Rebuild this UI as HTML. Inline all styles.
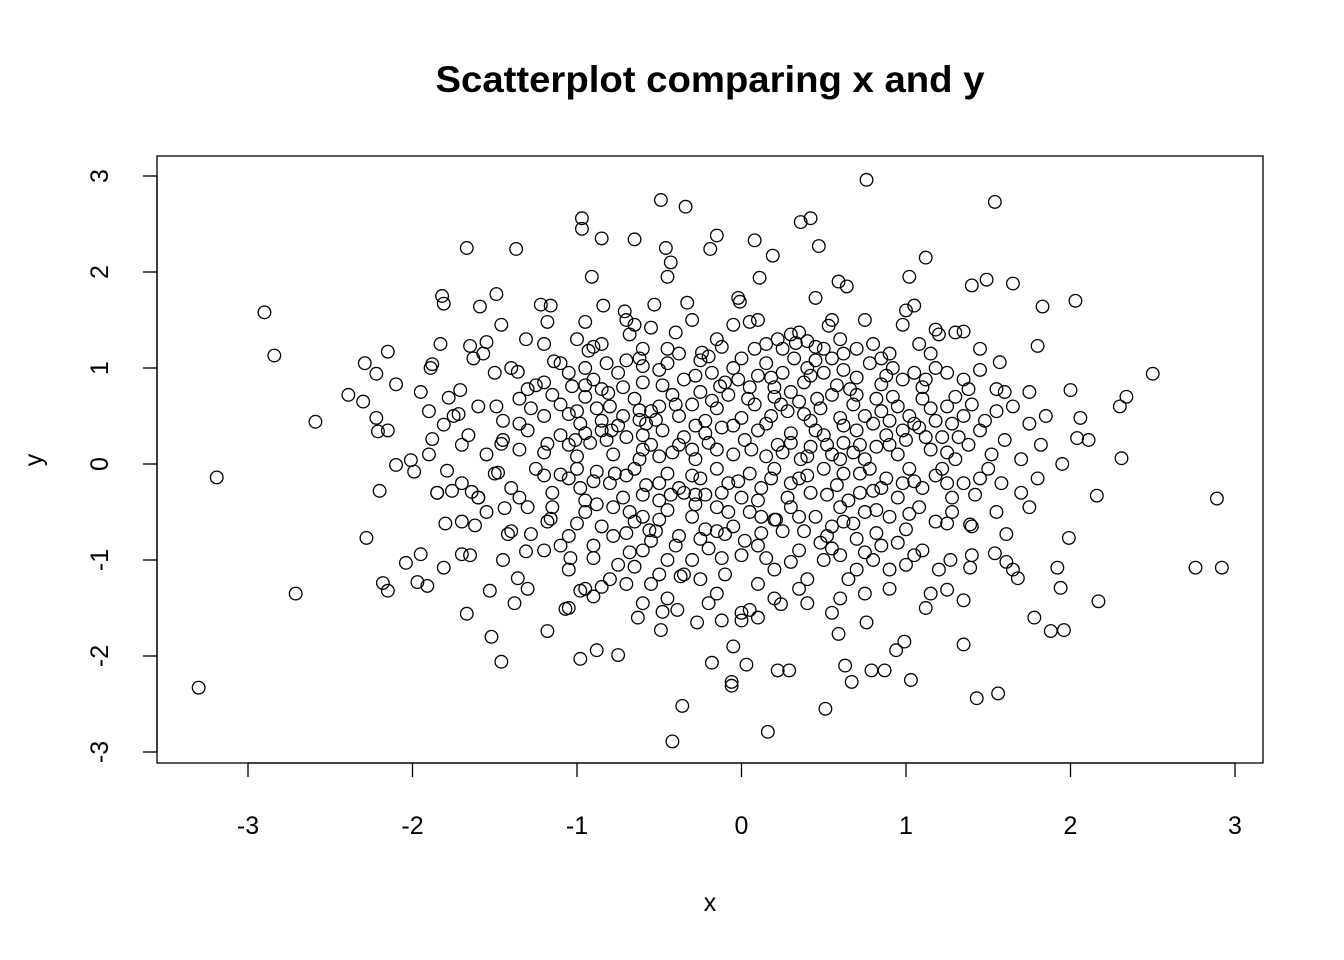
<!DOCTYPE html>
<html><head><meta charset="utf-8">
<style>
html,body{margin:0;padding:0;background:#fff;}
svg{display:block;font-family:"Liberation Sans",Arial,sans-serif;}
</style></head>
<body>
<svg id="chart" width="1344" height="960" viewBox="0 0 1344 960" xmlns="http://www.w3.org/2000/svg">
<rect x="0" y="0" width="1344" height="960" fill="#fff"/>
<text x="710" y="92" text-anchor="middle" font-size="37" font-weight="bold" textLength="549" lengthAdjust="spacingAndGlyphs">Scatterplot comparing x and y</text>
<rect x="157" y="156" width="1106" height="607" fill="none" stroke="#000" stroke-width="1.3"/>
<g id="xaxis"></g>
<g id="yaxis"></g>
<g id="marks"></g>
<text x="710" y="911" text-anchor="middle" font-size="25">x</text>
<text transform="translate(42,460) rotate(-90)" text-anchor="middle" font-size="25">y</text>
</svg>
<script>
const xTicks = [-3,-2,-1,0,1,2,3];
const yTicks = [-3,-2,-1,0,1,2,3];
const outlierPoints = [
[-3.30,-2.33],[-3.19,-0.14],[-2.90,1.58],[-2.84,1.13],[-2.71,-1.35],[-2.59,0.44],[-2.39,0.72],[-2.29,1.05],[-2.30,0.65],[-2.28,-0.77],
[-2.22,0.94],[-2.22,0.48],[-2.15,1.17],[-2.20,-0.28],[-2.18,-1.24],[-2.15,-1.32],[-2.21,0.34],[-2.15,0.35],[-2.10,0.83],[-2.10,-0.01],
[-2.04,-1.03],[-2.01,0.04],[-1.99,-0.08],[-1.95,0.75],[-1.95,-0.94],[-1.97,-1.23],[-1.89,1.00],[-1.88,1.04],[-1.91,-1.27],[-1.88,0.26],
[-1.82,1.75],[-1.81,1.67],[-1.85,-0.30],[-1.81,-1.08],[-1.80,-0.62],[-1.83,1.25],[-1.81,0.41],[-1.79,-0.07],[-1.78,0.69],[-1.76,-0.28],
[-1.72,0.52],[-1.71,0.77],[-1.70,-0.94],[-1.67,2.25],[-1.67,-1.56],[-1.66,0.30],[-1.65,1.23],[-1.63,1.10],[-1.64,-0.29],[-1.62,-0.64],
[-1.60,-0.35],[-1.59,1.64],[-1.57,1.15],[-1.55,1.27],[-1.53,-1.32],[-1.52,-1.80],[-1.49,1.77],[-1.49,0.60],[-1.48,-0.09],[-1.46,0.21],
[-1.46,1.45],[-1.46,-2.06],[-1.44,-0.46],[-1.42,-0.73],[-1.38,-1.45],[-1.37,2.24],[-1.36,0.96],[-1.36,-1.19],[-1.35,0.42],[-1.31,1.30],
[-1.31,-0.91],[-1.28,-0.73],[-1.25,0.82],[-1.22,1.66],[-1.18,1.48],[-1.18,-1.74],[-1.16,1.65],[-1.18,0.21],[-1.16,-0.57],[-1.14,1.07],
[-1.10,-0.11],[-1.07,-1.51],[-1.05,0.52],[-1.04,-0.98],[-1.03,0.81],[-1.01,0.25],[-0.98,-1.32],[-0.98,-2.03],[-0.97,2.56],[-0.97,2.45],
[-0.95,1.48],[-0.93,1.18],[-0.91,1.95],[-0.90,-1.38],[-0.88,-1.94],[-0.85,2.35],[-0.84,1.65],[-0.81,0.74],[-0.79,0.35],[-0.77,-0.10],
[-0.75,-1.99],[-0.71,1.59],[-0.68,1.35],[-0.65,2.34],[-0.65,-1.07],[-0.63,-1.60],[-0.62,0.46],[-0.60,1.02],[-0.56,-0.69],[-0.53,1.66],
[-0.49,-1.73],[-0.49,2.75],[-0.48,-1.54],[-0.46,2.25],[-0.45,1.95],[-0.43,2.10],[-0.43,-0.32],[-0.42,-2.89],[-0.39,-1.52],[-0.37,-1.17],
[-0.36,-2.52],[-0.34,2.68],[-0.33,1.68],[-0.28,-0.32],[-0.27,-1.65],[-0.24,1.16],[-0.19,2.24],[-0.18,-2.07],[-0.15,2.38],[-0.13,0.81],
[-0.12,-1.63],[-0.10,-0.73],[-0.06,-2.27],[-0.06,-2.31],[-0.05,-1.90],[-0.02,1.73],[-0.01,1.69],[0.00,-1.63],[0.03,-2.09],[0.05,-1.52],
[0.08,2.33],[0.11,1.94],[0.16,-2.79],[0.19,2.17],[0.21,-0.58],[0.22,-2.15],[0.24,-1.46],[0.29,-2.15],[0.33,1.26],[0.36,2.52],
[0.42,2.56],[0.47,2.27],[0.45,1.73],[0.53,1.44],[0.59,1.90],[0.64,1.85],[0.59,-1.77],[0.63,-2.10],[0.67,-2.27],[0.51,-2.55],
[0.76,2.96],[0.76,-1.65],[0.79,-2.15],[0.87,-2.15],[0.94,-1.94],[0.99,-1.85],[1.03,-2.25],[1.02,1.95],[1.12,2.15],[1.12,-1.50],
[1.18,1.40],[1.35,-1.88],[1.35,1.38],[1.40,1.86],[1.43,-2.44],[1.49,1.92],[1.54,2.73],[1.56,-2.39],[1.57,1.06],[1.65,1.88],
[1.68,-1.19],[1.75,0.75],[1.78,-1.60],[1.80,1.23],[1.83,1.64],[1.88,-1.74],[1.92,-1.08],[1.94,-1.29],[1.96,-1.73],[1.99,-0.77],
[2.00,0.77],[2.03,1.70],[2.04,0.27],[2.06,0.48],[2.11,0.25],[2.17,-1.43],[2.16,-0.33],[2.30,0.60],[2.31,0.06],[2.34,0.70],
[2.50,0.94],[2.76,-1.08],[2.89,-0.36],[2.92,-1.08],[1.61,-0.73],[1.61,-1.02],[1.54,-0.93],[1.39,-0.63],[1.39,-1.08],[1.35,-1.42],
[1.27,-1.00],[1.25,-1.31]
];
const corePoints = [
[-0.9,1.22],[-0.85,1.25],[-0.7,1.5],[-0.55,1.42],[-0.4,1.37],[-0.3,1.5],[-0.15,1.3],[-0.05,1.45],[0.05,1.48],[0.1,1.5],[0.25,1.2],[0.3,1.35],[0.35,1.37],[0.5,1.2],[0.55,1.5],[0.7,1.2],[0.75,1.5],[0.9,1.15],[0.98,1.45],[1.0,1.6],[1.05,1.65],[1.15,1.15],[1.2,1.35],[-1.0,1.3],[-1.2,1.25],[-0.6,1.2],[-0.2,1.12],[0.4,1.0],[0.6,1.3],[0.85,1.1],[-0.45,1.2],[-0.65,1.45],[0.15,1.25],[0.45,1.22],[1.3,1.37],[1.45,1.2],
[-1.5,0.95],[-1.4,1.0],[-1.1,1.05],[-1.05,0.95],[-0.95,1.0],[-0.85,0.78],[-0.75,0.95],[-0.7,1.08],[-0.6,0.85],[-0.5,0.98],[-0.45,1.05],[-0.35,0.88],[-0.25,1.08],[-0.18,0.95],[-0.1,0.85],[-0.05,1.0],[0.0,1.1],[0.1,0.92],[0.15,1.05],[0.2,0.8],[0.25,0.95],[0.32,1.1],[0.38,0.85],[0.45,1.08],[0.5,0.95],[0.58,0.82],[0.62,0.98],[0.7,0.9],[0.78,1.05],[0.85,0.83],[0.92,1.0],[0.98,0.88],[1.05,0.95],[1.1,0.8],[1.18,1.0],[1.25,0.95],[1.35,0.88],[1.45,0.98],[1.55,0.78],[1.6,0.75],[-1.2,0.85],[-0.9,0.88],[0.05,0.8],[0.55,1.1],[1.3,0.7],[-1.3,0.78],
[-1.6,0.6],[-1.45,0.45],[-1.35,0.68],[-1.2,0.5],[-1.1,0.62],[-1.0,0.55],[-0.95,0.7],[-0.85,0.45],[-0.8,0.6],[-0.72,0.5],[-0.65,0.68],[-0.58,0.42],[-0.5,0.6],[-0.42,0.72],[-0.38,0.5],[-0.3,0.62],[-0.22,0.45],[-0.15,0.58],[-0.08,0.72],[0.0,0.48],[0.08,0.62],[0.15,0.42],[0.2,0.7],[0.28,0.55],[0.35,0.65],[0.42,0.45],[0.48,0.58],[0.55,0.72],[0.6,0.48],[0.68,0.62],[0.75,0.5],[0.82,0.68],[0.9,0.45],[0.95,0.6],[1.02,0.5],[1.1,0.68],[1.18,0.45],[1.25,0.6],[1.35,0.5],[1.48,0.45],[1.55,0.55],[1.65,0.6],[1.75,0.42],[1.85,0.5],[-1.75,0.5],[-1.9,0.55],[-0.25,0.75],[0.3,0.75],[0.85,0.55],[-0.55,0.55],
[-1.7,0.2],[-1.55,0.1],[-1.45,0.25],[-1.3,0.35],[-1.2,0.12],[-1.1,0.3],[-1.0,0.08],[-0.92,0.22],[-0.85,0.35],[-0.78,0.1],[-0.7,0.28],[-0.62,0.05],[-0.55,0.2],[-0.48,0.35],[-0.42,0.12],[-0.35,0.28],[-0.28,0.05],[-0.2,0.22],[-0.12,0.38],[-0.05,0.1],[0.02,0.25],[0.1,0.35],[0.15,0.08],[0.22,0.2],[0.3,0.32],[0.36,0.05],[0.42,0.18],[0.5,0.3],[0.55,0.1],[0.62,0.22],[0.7,0.35],[0.75,0.05],[0.82,0.18],[0.88,0.3],[0.95,0.1],[1.0,0.25],[1.08,0.38],[1.15,0.15],[1.22,0.28],[1.3,0.05],[1.38,0.2],[1.45,0.35],[1.52,0.1],[1.6,0.25],[1.7,0.05],[1.82,0.2],[1.95,0.0],[-1.9,0.1],[-0.3,0.15],[0.6,0.05],[0.25,0.12],[-0.6,0.3],[0.45,0.35],[1.25,0.12],
[-1.85,-0.3],[-1.7,-0.2],[-1.6,-0.35],[-1.5,-0.1],[-1.4,-0.25],[-1.25,-0.05],[-1.15,-0.3],[-1.05,-0.15],[-0.95,-0.38],[-0.88,-0.08],[-0.8,-0.2],[-0.72,-0.35],[-0.65,-0.05],[-0.58,-0.22],[-0.5,-0.38],[-0.45,-0.1],[-0.38,-0.25],[-0.3,-0.12],[-0.22,-0.32],[-0.15,-0.05],[-0.08,-0.2],[0.0,-0.35],[0.05,-0.1],[0.12,-0.25],[0.2,-0.05],[0.28,-0.35],[0.35,-0.15],[0.42,-0.3],[0.5,-0.05],[0.58,-0.22],[0.65,-0.38],[0.72,-0.1],[0.8,-0.28],[0.88,-0.15],[0.95,-0.35],[1.02,-0.05],[1.1,-0.25],[1.18,-0.12],[1.28,-0.35],[1.35,-0.2],[1.42,-0.32],[1.5,-0.05],[1.58,-0.2],[1.7,-0.3],[1.8,-0.15],[-0.35,-0.3],[0.3,-0.2],[0.78,-0.05],[-0.98,-0.25],[1.45,-0.15],
[-1.55,-0.5],[-1.4,-0.7],[-1.3,-0.45],[-1.18,-0.6],[-1.05,-0.75],[-0.95,-0.5],[-0.85,-0.65],[-0.78,-0.45],[-0.7,-0.72],[-0.6,-0.55],[-0.52,-0.7],[-0.45,-0.48],[-0.38,-0.75],[-0.3,-0.55],[-0.22,-0.68],[-0.15,-0.45],[-0.05,-0.65],[0.05,-0.5],[0.12,-0.72],[0.2,-0.58],[0.3,-0.45],[0.38,-0.7],[0.45,-0.55],[0.52,-0.75],[0.6,-0.45],[0.68,-0.62],[0.75,-0.5],[0.82,-0.72],[0.9,-0.55],[1.0,-0.68],[1.08,-0.45],[1.18,-0.6],[1.28,-0.5],[1.4,-0.65],[1.55,-0.5],[1.75,-0.45],[-1.7,-0.6],[-0.25,-0.78],[0.55,-0.65],[-0.65,-0.6],
[-1.45,-1.0],[-1.2,-0.9],[-1.05,-1.1],[-0.9,-0.85],[-0.75,-1.05],[-0.6,-0.9],[-0.5,-1.15],[-0.4,-0.85],[-0.3,-1.0],[-0.2,-0.88],[-0.1,-1.15],[0.0,-0.95],[0.1,-0.85],[0.2,-1.1],[0.35,-0.9],[0.5,-1.0],[0.6,-0.95],[0.7,-1.1],[0.85,-0.85],[1.0,-1.05],[1.1,-0.9],[1.2,-1.1],[1.4,-0.95],[1.65,-1.1],[-1.65,-0.95],[-0.8,-1.2],[0.4,-1.2],[0.8,-1.0],[-0.35,-1.15],[0.9,-1.1],
[-1.3,-1.3],[-0.95,-1.3],[-0.85,-1.28],[-0.6,-1.45],[-0.45,-1.4],[-0.2,-1.45],[0.1,-1.6],[0.2,-1.4],[0.4,-1.45],[0.55,-1.55],[0.6,-1.4],[0.9,-1.3],[1.15,-1.35],[-1.05,-1.5],[0.0,-1.55],[-0.55,-1.25]
];
const densePoints = [
[-0.82,1.05],[-0.62,1.1],[-0.38,1.15],[-0.12,1.22],[0.08,1.2],[0.22,1.3],[0.4,1.28],[0.62,1.15],[0.8,1.25],[1.08,1.25],[-0.95,0.82],[-0.72,0.8],[-0.48,0.82],[-0.28,0.92],[-0.02,0.88],[0.18,0.9],[0.42,0.92],[0.66,0.78],[0.88,0.92],[1.12,0.88],[1.38,0.78],[-1.15,0.72],
[-0.88,0.58],[-0.62,0.56],[-0.4,0.62],[-0.18,0.66],[0.04,0.68],[0.24,0.62],[0.46,0.68],[0.7,0.72],[0.92,0.7],[1.15,0.58],[1.4,0.62],[-1.28,0.58],[-0.98,0.42],[-0.75,0.4],[-0.52,0.46],[-0.28,0.4],[-0.05,0.4],[0.18,0.5],[0.38,0.52],[0.62,0.4],[0.8,0.42],[1.05,0.42],[1.28,0.42],
[-1.05,0.2],[-0.82,0.25],[-0.6,0.15],[-0.38,0.2],[-0.15,0.15],[0.06,0.15],[0.3,0.22],[0.52,0.2],[0.72,0.2],[0.9,0.2],[1.12,0.28],[1.32,0.28],[-1.35,0.15],[-0.95,0.32],[-0.5,0.08],[-0.22,0.32],[0.4,0.08],[0.68,0.12],[0.98,0.35],
[-1.2,-0.12],[-0.9,-0.18],[-0.7,-0.12],[-0.5,-0.2],[-0.25,-0.15],[-0.02,-0.18],[0.18,-0.15],[0.4,-0.12],[0.62,-0.1],[0.85,-0.25],[1.05,-0.18],[1.25,-0.2],[-1.35,-0.35],[-1.0,-0.05],[-0.6,-0.32],[-0.12,-0.3],[0.1,-0.38],[0.52,-0.32],[0.72,-0.3],[0.98,-0.2],[1.22,-0.05],
[-1.15,-0.45],[-0.88,-0.42],[-0.68,-0.5],[-0.5,-0.58],[-0.28,-0.42],[-0.08,-0.5],[0.12,-0.55],[0.35,-0.55],[0.62,-0.6],[0.82,-0.48],[1.02,-0.52],[1.25,-0.62],[-1.0,-0.62],[-0.78,-0.75],[-0.55,-0.8],[-0.15,-0.7],[0.02,-0.8],[0.25,-0.7],[0.48,-0.82],[0.7,-0.78],[0.95,-0.82],
[-0.9,-0.98],[-0.68,-0.92],[-0.45,-1.0],[-0.12,-0.98],[0.15,-0.98],[0.3,-1.02],[0.55,-0.88],[0.75,-0.92],[1.05,-0.95],[-1.1,-0.85],[-0.25,-1.2],[0.1,-1.25],[0.65,-1.2],[-0.7,-1.25],[0.35,-1.3],[-0.15,-1.35],[0.75,-1.35]
];

const NS = "http://www.w3.org/2000/svg";
function xScale(v){ return 741.5 + v * 164.5; }
function yScale(v){ return 464 - v * 96; }

const xaxis = document.getElementById('xaxis');
const xl = document.createElementNS(NS,'line');


xl.setAttribute('x1', xScale(xTicks[0])); xl.setAttribute('x2', xScale(xTicks[xTicks.length-1]));
xl.setAttribute('y1', 763); xl.setAttribute('y2', 763);
xl.setAttribute('stroke','#000'); xl.setAttribute('stroke-width','1.3');
xaxis.appendChild(xl);
xTicks.forEach(t=>{
  const tk = document.createElementNS(NS,'line');
  
  
  tk.setAttribute('x1', xScale(t)); tk.setAttribute('x2', xScale(t));
  tk.setAttribute('y1', 763); tk.setAttribute('y2', 777);
  tk.setAttribute('stroke','#000'); tk.setAttribute('stroke-width','1.3');
  xaxis.appendChild(tk);
  const lb = document.createElementNS(NS,'text');
  
  
  lb.setAttribute('x', xScale(t)); lb.setAttribute('y', 834);
  lb.setAttribute('text-anchor','middle'); lb.setAttribute('font-size','25');
  lb.textContent = String(t);
  xaxis.appendChild(lb);
});

const yaxis = document.getElementById('yaxis');
const yl = document.createElementNS(NS,'line');


yl.setAttribute('x1', 157); yl.setAttribute('x2', 157);
yl.setAttribute('y1', yScale(yTicks[0])); yl.setAttribute('y2', yScale(yTicks[yTicks.length-1]));
yl.setAttribute('stroke','#000'); yl.setAttribute('stroke-width','1.3');
yaxis.appendChild(yl);
yTicks.forEach(t=>{
  const tk = document.createElementNS(NS,'line');
  
  
  tk.setAttribute('x1', 143); tk.setAttribute('x2', 157);
  tk.setAttribute('y1', yScale(t)); tk.setAttribute('y2', yScale(t));
  tk.setAttribute('stroke','#000'); tk.setAttribute('stroke-width','1.3');
  yaxis.appendChild(tk);
  const lb = document.createElementNS(NS,'text');
  
  
  lb.setAttribute('transform','translate(108,' + yScale(t) + ') rotate(-90)');
  lb.setAttribute('text-anchor','middle'); lb.setAttribute('font-size','25');
  lb.textContent = String(t);
  yaxis.appendChild(lb);
});

const marks = document.getElementById('marks');
outlierPoints.concat(corePoints, densePoints).forEach(p=>{
  const c = document.createElementNS(NS,'circle');
  
  
  c.setAttribute('cx', xScale(p[0]));
  c.setAttribute('cy', yScale(p[1]));
  c.setAttribute('r', 6.3);
  c.setAttribute('fill','none');
  c.setAttribute('stroke','#000');
  c.setAttribute('stroke-width','1.3');
  marks.appendChild(c);
});
</script>
</body></html>
